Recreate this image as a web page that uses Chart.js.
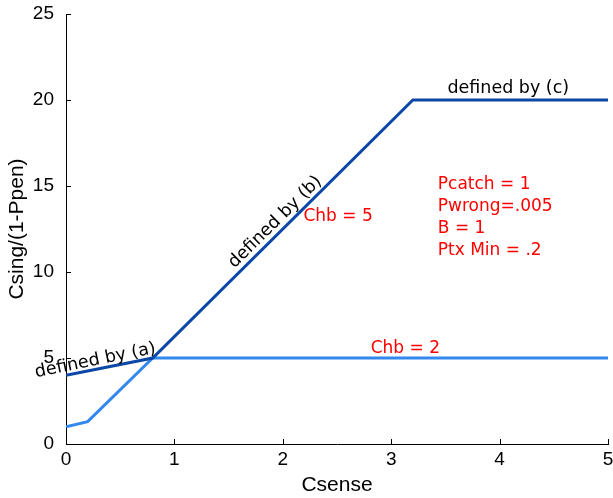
<!DOCTYPE html>
<html>
<head>
<meta charset="utf-8">
<script src="https://cdn.jsdelivr.net/npm/chart.js@4/dist/chart.umd.min.js"></script>
<style>
  html, body { margin: 0; padding: 0; background: #fff; }
  #wrap { width: 613px; height: 498px; }
</style>
</head>
<body>
<div id="wrap"><canvas id="chart"></canvas></div>
<script>
// Chb = 5 curve (dark blue)
const chb5X = [0, 0.8, 3.2, 5];
const chb5Y = [4, 5, 20, 20];
// Chb = 2 curve (light blue)
const chb2X = [0, 0.2, 0.8, 5];
const chb2Y = [1, 1.3, 5, 5];

const xTicks = [0, 1, 2, 3, 4, 5];
const yTicks = [0, 5, 10, 15, 20, 25];

// text notes, placed in data units
const notes = [
  { text: 'defined by (a)', x: 0.27, y: 4.85, angle: -11.5, color: '#000', size: 17.5, align: 'center' },
  { text: 'defined by (b)', x: 1.93, y: 12.9, angle: -44.6, color: '#000', size: 17.5, align: 'center' },
  { text: 'defined by (c)', x: 4.08, y: 20.7, angle: 0, color: '#000', size: 17.5, align: 'center' },
  { text: 'Chb = 5', x: 2.19, y: 13.2, angle: 0, color: '#ff0000', size: 17, align: 'left' },
  { text: 'Chb = 2', x: 3.13, y: 5.55, angle: 0, color: '#ff0000', size: 17, align: 'center' },
  { text: 'Pcatch = 1', x: 3.43, y: 15.1, angle: 0, color: '#ff0000', size: 17, align: 'left' },
  { text: 'Pwrong=.005', x: 3.43, y: 13.82, angle: 0, color: '#ff0000', size: 17, align: 'left' },
  { text: 'B = 1', x: 3.43, y: 12.54, angle: 0, color: '#ff0000', size: 17, align: 'left' },
  { text: 'Ptx Min = .2', x: 3.43, y: 11.26, angle: 0, color: '#ff0000', size: 17, align: 'left' }
];

function toPoints(xs, ys) {
  return xs.map((x, i) => ({ x: x, y: ys[i] }));
}

// small tick marks pointing into the plot
const innerTicks = {
  id: 'innerTicks',
  afterDraw(chart) {
    const ctx = chart.ctx;
    const xs = chart.scales.x, ys = chart.scales.y;
    const area = chart.chartArea;
    ctx.save();
    ctx.strokeStyle = '#000';
    ctx.lineWidth = 1;
    ctx.beginPath();
    xTicks.forEach(v => {
      const px = Math.round(xs.getPixelForValue(v)) + 0.5;
      ctx.moveTo(px, area.bottom);
      ctx.lineTo(px, area.bottom - 5);
    });
    yTicks.forEach(v => {
      const py = Math.round(ys.getPixelForValue(v)) + 0.5;
      ctx.moveTo(area.left, py);
      ctx.lineTo(area.left + 5, py);
    });
    ctx.stroke();
    ctx.restore();
  }
};

const noteText = {
  id: 'noteText',
  afterDatasetsDraw(chart) {
    const ctx = chart.ctx;
    const xs = chart.scales.x, ys = chart.scales.y;
    ctx.save();
    notes.forEach(n => {
      ctx.save();
      ctx.translate(xs.getPixelForValue(n.x), ys.getPixelForValue(n.y));
      ctx.rotate(n.angle * Math.PI / 180);
      ctx.font = n.size + 'px "DejaVu Sans"';
      ctx.fillStyle = n.color;
      ctx.textAlign = n.align;
      ctx.textBaseline = 'middle';
      ctx.fillText(n.text, 0, 0);
      ctx.restore();
    });
    ctx.restore();
  }
};

new Chart(document.getElementById('chart'), {
  type: 'line',
  data: {
    datasets: [
      {
        label: 'Chb = 5',
        data: toPoints(chb5X, chb5Y),
        borderColor: '#0a47a6',
        borderWidth: 3,
        pointRadius: 0,
        fill: false,
        tension: 0
      },
      {
        label: 'Chb = 2',
        data: toPoints(chb2X, chb2Y),
        borderColor: '#3388ee',
        borderWidth: 3,
        pointRadius: 0,
        fill: false,
        tension: 0
      }
    ]
  },
  options: {
    responsive: true,
    maintainAspectRatio: false,
    animation: false,
    events: [],
    layout: { padding: { top: 14, right: 5, left: 0, bottom: 0 } },
    plugins: {
      legend: { display: false },
      tooltip: { enabled: false }
    },
    scales: {
      x: {
        type: 'linear',
        min: 0,
        max: 5,
        afterBuildTicks: axis => { axis.ticks = xTicks.map(v => ({ value: v })); },
        afterFit: axis => {
          axis.height = 54;
          axis.paddingLeft = 0;
          axis.paddingRight = 0;
        },
        grid: { display: false, drawTicks: false },
        border: { display: true, color: '#000', width: 1 },
        ticks: {
          color: '#000',
          padding: 4,
          maxRotation: 0,
          font: { family: '"Liberation Sans"', size: 19 }
        },
        title: {
          display: true,
          text: 'Csense',
          color: '#000',
          padding: { top: 0, bottom: 0 },
          font: { family: '"Liberation Sans"', size: 21 }
        }
      },
      y: {
        type: 'linear',
        min: 0,
        max: 25,
        afterBuildTicks: axis => { axis.ticks = yTicks.map(v => ({ value: v })); },
        afterFit: axis => {
          axis.width = 66;
          axis.paddingTop = 0;
          axis.paddingBottom = 0;
        },
        grid: { display: false, drawTicks: false },
        border: { display: true, color: '#000', width: 1 },
        ticks: {
          color: '#000',
          padding: 12,
          font: { family: '"Liberation Sans"', size: 19 }
        },
        title: {
          display: true,
          text: 'Csing/(1-Ppen)',
          color: '#000',
          padding: { top: 5, bottom: 0 },
          font: { family: '"Liberation Sans"', size: 21 }
        }
      }
    }
  },
  plugins: [innerTicks, noteText]
});
</script>
</body>
</html>
